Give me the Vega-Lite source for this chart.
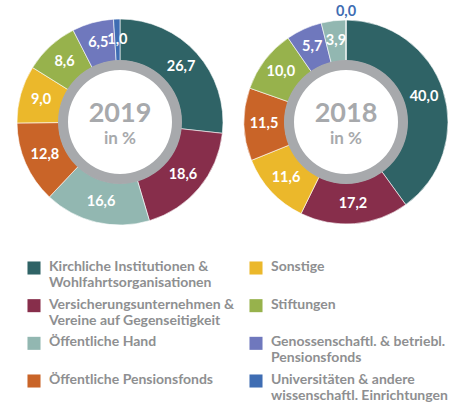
{
  "$schema": "https://vega.github.io/schema/vega-lite/v6.json",
  "background": "#ffffff",
  "padding": {"left": 15, "top": 4, "right": 0, "bottom": 0},
  "spacing": 20,
  "datasets": {
    "shares": [
      {"year": "2019", "cat": "Kirchliche Institutionen & Wohlfahrtsorganisationen", "ord": 1, "value": 26.7},
      {"year": "2019", "cat": "Versicherungsunternehmen & Vereine auf Gegenseitigkeit", "ord": 2, "value": 18.6},
      {"year": "2019", "cat": "Öffentliche Hand", "ord": 3, "value": 16.6},
      {"year": "2019", "cat": "Öffentliche Pensionsfonds", "ord": 4, "value": 12.8},
      {"year": "2019", "cat": "Sonstige", "ord": 5, "value": 9.0},
      {"year": "2019", "cat": "Stiftungen", "ord": 6, "value": 8.6},
      {"year": "2019", "cat": "Genossenschaftl. & betriebl. Pensionsfonds", "ord": 7, "value": 6.5},
      {"year": "2019", "cat": "Universitäten & andere wissenschaftl. Einrichtungen", "ord": 8, "value": 1.0},
      {"year": "2018", "cat": "Kirchliche Institutionen & Wohlfahrtsorganisationen", "ord": 1, "value": 40.0},
      {"year": "2018", "cat": "Versicherungsunternehmen & Vereine auf Gegenseitigkeit", "ord": 2, "value": 17.2},
      {"year": "2018", "cat": "Sonstige", "ord": 3, "value": 11.6},
      {"year": "2018", "cat": "Öffentliche Pensionsfonds", "ord": 4, "value": 11.5},
      {"year": "2018", "cat": "Stiftungen", "ord": 5, "value": 10.0},
      {"year": "2018", "cat": "Genossenschaftl. & betriebl. Pensionsfonds", "ord": 6, "value": 5.7},
      {"year": "2018", "cat": "Öffentliche Hand", "ord": 7, "value": 3.9},
      {"year": "2018", "cat": "Universitäten & andere wissenschaftl. Einrichtungen", "ord": 8, "value": 0.0}
    ],
    "legend": [
      {"cat": "Kirchliche Institutionen & Wohlfahrtsorganisationen", "col": 1, "row": 1, "line1": "Kirchliche Institutionen &", "line2": "Wohlfahrtsorganisationen"},
      {"cat": "Versicherungsunternehmen & Vereine auf Gegenseitigkeit", "col": 1, "row": 2, "line1": "Versicherungsunternehmen &", "line2": "Vereine auf Gegenseitigkeit"},
      {"cat": "Öffentliche Hand", "col": 1, "row": 3, "line1": "Öffentliche Hand", "line2": ""},
      {"cat": "Öffentliche Pensionsfonds", "col": 1, "row": 4, "line1": "Öffentliche Pensionsfonds", "line2": ""},
      {"cat": "Sonstige", "col": 2, "row": 1, "line1": "Sonstige", "line2": ""},
      {"cat": "Stiftungen", "col": 2, "row": 2, "line1": "Stiftungen", "line2": ""},
      {"cat": "Genossenschaftl. & betriebl. Pensionsfonds", "col": 2, "row": 3, "line1": "Genossenschaftl. & betriebl.", "line2": "Pensionsfonds"},
      {"cat": "Universitäten & andere wissenschaftl. Einrichtungen", "col": 2, "row": 4, "line1": "Universitäten & andere", "line2": "wissenschaftl. Einrichtungen"}
    ]
  },
  "vconcat": [
    {
      "spacing": 16,
      "hconcat": [
        {
          "width": 210, "height": 210,
          "data": {"name": "shares"},
          "transform": [{"filter": "datum.year == '2019'"}],
          "layer": [
            {
              "mark": {"type": "arc", "outerRadius": 103, "innerRadius": 61, "stroke": "#ffffff", "strokeWidth": 0.6},
              "encoding": {
                "theta": {"field": "value", "type": "quantitative", "stack": true},
                "order": {"field": "ord", "type": "quantitative"},
                "color": {
                  "field": "cat", "type": "nominal", "legend": null,
                  "scale": {
                    "domain": ["Kirchliche Institutionen & Wohlfahrtsorganisationen", "Versicherungsunternehmen & Vereine auf Gegenseitigkeit", "Öffentliche Hand", "Öffentliche Pensionsfonds", "Sonstige", "Stiftungen", "Genossenschaftl. & betriebl. Pensionsfonds", "Universitäten & andere wissenschaftl. Einrichtungen"],
                    "range": ["#2f6366", "#872e4b", "#92b7b1", "#c96428", "#ebb82b", "#97b24c", "#6f78bd", "#3f6db3"]
                  }
                }
              }
            },
            {
              "transform": [{"filter": "datum.value > 0"}],
              "mark": {"type": "text", "radius": 82, "font": "Lato", "fontWeight": "bold", "fontSize": 14.5, "color": "#ffffff"},
              "encoding": {
                "theta": {"field": "value", "type": "quantitative", "stack": true},
                "order": {"field": "ord", "type": "quantitative"},
                "text": {"field": "value", "type": "quantitative", "format": ".1f"}
              }
            },
            {
              "transform": [{"aggregate": [{"op": "count", "as": "n"}], "groupby": ["year"]}],
              "mark": {"type": "arc", "theta": 0, "theta2": 6.2832, "outerRadius": 62, "innerRadius": 52, "color": "#a7a9ac"},
              "encoding": {}
            },
            {
              "transform": [{"aggregate": [{"op": "count", "as": "n"}], "groupby": ["year"]}],
              "mark": {"type": "text", "font": "Lato", "fontWeight": "bold", "fontSize": 27, "color": "#a7a9ac", "dy": -8},
              "encoding": {"text": {"field": "year"}}
            },
            {
              "transform": [{"aggregate": [{"op": "count", "as": "n"}], "groupby": ["year"]}],
              "mark": {"type": "text", "font": "Lato", "fontWeight": "bold", "fontSize": 17, "color": "#a7a9ac", "dy": 17, "text": "in %"},
              "encoding": {}
            }
          ]
        },
        {
          "width": 210, "height": 210,
          "data": {"name": "shares"},
          "transform": [{"filter": "datum.year == '2018'"}],
          "layer": [
            {
              "mark": {"type": "arc", "outerRadius": 102, "innerRadius": 61, "stroke": "#ffffff", "strokeWidth": 0.6},
              "encoding": {
                "theta": {"field": "value", "type": "quantitative", "stack": true},
                "order": {"field": "ord", "type": "quantitative"},
                "color": {
                  "field": "cat", "type": "nominal", "legend": null,
                  "scale": {
                    "domain": ["Kirchliche Institutionen & Wohlfahrtsorganisationen", "Versicherungsunternehmen & Vereine auf Gegenseitigkeit", "Öffentliche Hand", "Öffentliche Pensionsfonds", "Sonstige", "Stiftungen", "Genossenschaftl. & betriebl. Pensionsfonds", "Universitäten & andere wissenschaftl. Einrichtungen"],
                    "range": ["#2f6366", "#872e4b", "#92b7b1", "#c96428", "#ebb82b", "#97b24c", "#6f78bd", "#3f6db3"]
                  }
                }
              }
            },
            {
              "transform": [{"filter": "datum.value > 0"}],
              "mark": {"type": "text", "radius": 82, "font": "Lato", "fontWeight": "bold", "fontSize": 14.5, "color": "#ffffff"},
              "encoding": {
                "theta": {"field": "value", "type": "quantitative", "stack": true},
                "order": {"field": "ord", "type": "quantitative"},
                "text": {"field": "value", "type": "quantitative", "format": ".1f"}
              }
            },
            {
              "transform": [{"filter": "datum.value == 0"}],
              "mark": {"type": "text", "radius": 110, "font": "Lato", "fontWeight": "bold", "fontSize": 14.5, "color": "#3f6db3"},
              "encoding": {
                "theta": {"field": "value", "type": "quantitative", "stack": true},
                "text": {"field": "value", "type": "quantitative", "format": ".1f"}
              }
            },
            {
              "transform": [{"aggregate": [{"op": "count", "as": "n"}], "groupby": ["year"]}],
              "mark": {"type": "arc", "theta": 0, "theta2": 6.2832, "outerRadius": 62, "innerRadius": 52, "color": "#a7a9ac"},
              "encoding": {}
            },
            {
              "transform": [{"aggregate": [{"op": "count", "as": "n"}], "groupby": ["year"]}],
              "mark": {"type": "text", "font": "Lato", "fontWeight": "bold", "fontSize": 27, "color": "#a7a9ac", "dy": -8},
              "encoding": {"text": {"field": "year"}}
            },
            {
              "transform": [{"aggregate": [{"op": "count", "as": "n"}], "groupby": ["year"]}],
              "mark": {"type": "text", "font": "Lato", "fontWeight": "bold", "fontSize": 17, "color": "#a7a9ac", "dy": 17, "text": "in %"},
              "encoding": {}
            }
          ]
        }
      ]
    },
    {
      "width": 260, "height": 160,
      "data": {"name": "legend"},
      "encoding": {
        "x": {"field": "col", "type": "ordinal", "scale": {"type": "point", "range": [19, 241], "padding": 0}, "axis": null},
        "y": {"field": "row", "type": "ordinal", "scale": {"type": "point", "range": [21, 134], "padding": 0}, "axis": null}
      },
      "layer": [
        {
          "mark": {"type": "square", "size": 170, "filled": true, "opacity": 1},
          "encoding": {
            "color": {
              "field": "cat", "type": "nominal", "legend": null,
              "scale": {
                "domain": ["Kirchliche Institutionen & Wohlfahrtsorganisationen", "Versicherungsunternehmen & Vereine auf Gegenseitigkeit", "Öffentliche Hand", "Öffentliche Pensionsfonds", "Sonstige", "Stiftungen", "Genossenschaftl. & betriebl. Pensionsfonds", "Universitäten & andere wissenschaftl. Einrichtungen"],
                "range": ["#2f6366", "#872e4b", "#92b7b1", "#c96428", "#ebb82b", "#97b24c", "#6f78bd", "#3f6db3"]
              }
            }
          }
        },
        {
          "mark": {"type": "text", "align": "left", "baseline": "middle", "dx": 15, "dy": -1, "font": "Lato", "fontWeight": "bold", "fontSize": 14, "color": "#8e8f91"},
          "encoding": {"text": {"field": "line1"}}
        },
        {
          "mark": {"type": "text", "align": "left", "baseline": "middle", "dx": 15, "dy": 15, "font": "Lato", "fontWeight": "bold", "fontSize": 14, "color": "#8e8f91"},
          "encoding": {"text": {"field": "line2"}}
        }
      ]
    }
  ],
  "config": {
    "view": {"stroke": null},
    "locale": {"number": {"decimal": ",", "thousands": ".", "grouping": [3], "currency": ["", " €"]}}
  }
}
